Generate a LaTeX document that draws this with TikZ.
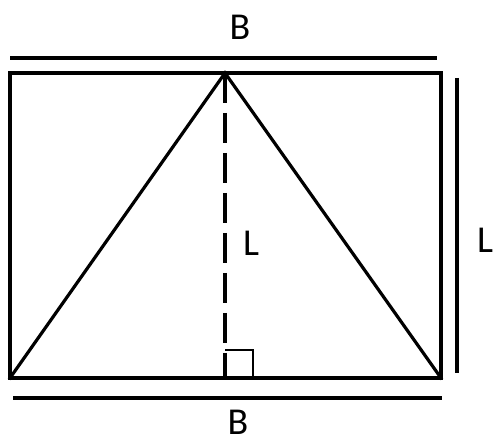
\documentclass[tikz,border=0pt]{standalone}
\usepackage{fontspec}
\setmainfont{Carlito}
\usetikzlibrary{positioning,calc}
\tikzset{
  edge/.style={line width=3.2pt, line cap=rect},
  dim/.style={line width=3.2pt},
  hgt/.style={line width=3.2pt, dash pattern=on 30pt off 10pt},
  lbl/.style={font=\fontsize{38}{46}\selectfont, inner sep=0pt},
}
\begin{document}
\begin{tikzpicture}[x=1pt, y=-1pt]
\useasboundingbox (0,0) rectangle (493,446);
% corners of the rectangle
\coordinate (tl) at (10,73);
\coordinate (tr) at (441,73);
\coordinate (bl) at (10,378);
\coordinate (br) at (441,378);
\coordinate (apex) at (225,73);
\coordinate (foot) at (225,378);
\draw[edge] (tl) rectangle (br);
\draw[edge, line join=miter] (bl) -- (apex) -- (br);
\draw[hgt] (apex) -- (foot);
% right-angle mark
\coordinate (ra) at (253,378);
\draw[line width=2.5pt] (225,350) -| (ra);
% dimension lines
\coordinate (ta) at (10,58); \coordinate (tb) at (437,58);
\coordinate (ba) at (13,398); \coordinate (bb) at (442,398);
\coordinate (ra1) at (457,78); \coordinate (ra2) at (457,373);
\draw[dim] (ta) -- (tb);
\draw[dim] (ba) -- (bb);
\draw[dim] (ra1) -- (ra2);
\node[lbl] (btop) at (240,27) {B};
\node[lbl] (bbot) at (238,422) {B};
\node[lbl] (lright) at (485,240) {L};
\node[lbl] (lmid) at (251,243) {L};
\end{tikzpicture}
\end{document}
